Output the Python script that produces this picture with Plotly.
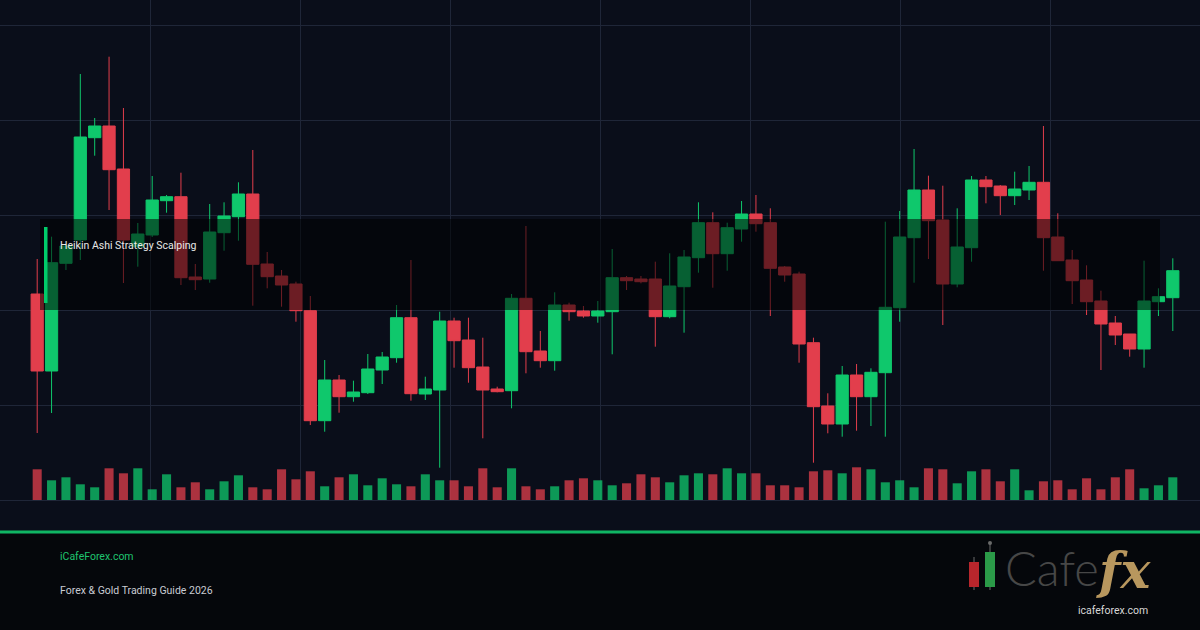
import plotly.graph_objects as go

# ---------------- data (price in USD, volume in lots) ----------------
candle_index = list(range(80))
open_ = [2406, 2329, 2436.7, 2460, 2562.3, 2574, 2531, 2453.3, 2465, 2499.3,
         2503.3, 2423, 2421, 2467.3, 2483.3, 2506, 2436, 2424, 2416, 2389.3,
         2279.3, 2320, 2303.3, 2307.3, 2330, 2342.3, 2382.3, 2306, 2310, 2379,
         2360, 2333, 2311, 2309.3, 2401.7, 2349, 2339.3, 2395, 2389, 2384,
         2388.3, 2422.3, 2421, 2421, 2383.3, 2413.3, 2442.3, 2477.3, 2446.3, 2471,
         2486, 2477.3, 2433, 2426, 2357.3, 2294, 2276, 2325, 2303.3, 2327.3,
         2392.3, 2462.3, 2510, 2480, 2416, 2452.3, 2520, 2514, 2504.3, 2510,
         2517.7, 2463, 2440, 2420, 2399, 2377, 2366, 2351, 2398.3, 2402.3]
high = [2441, 2463.3, 2456, 2626, 2582, 2643.3, 2592, 2477, 2524, 2505,
        2527.3, 2436, 2496, 2497.7, 2517.7, 2550, 2448, 2430, 2418.3, 2404,
        2340, 2325, 2319.3, 2346, 2348, 2395, 2440, 2323.3, 2388.3, 2382.3,
        2382.3, 2362.3, 2313.3, 2406, 2474, 2369, 2407.7, 2397.3, 2394, 2399,
        2451, 2424, 2424, 2438.3, 2446.7, 2450, 2497.7, 2487.7, 2477.3, 2499,
        2505, 2491.7, 2434, 2428.3, 2362.3, 2306.7, 2334, 2336, 2331.7, 2478.3,
        2489, 2551, 2524.3, 2514.3, 2491.7, 2524, 2524, 2515, 2528.3, 2534,
        2574, 2486.7, 2450, 2434.7, 2409.3, 2384, 2366, 2439.3, 2411.7, 2441.7]
low = [2267, 2287, 2430, 2440, 2544.3, 2490, 2417, 2433.3, 2463, 2487.3,
       2415, 2410, 2417.3, 2449.3, 2459.3, 2394.3, 2411.7, 2393.3, 2378.3, 2275,
       2268.3, 2287.3, 2298.3, 2306, 2316, 2337.3, 2299.3, 2300, 2232.3, 2332.3,
       2317.3, 2261.7, 2307.7, 2291.7, 2326.7, 2332.3, 2329.3, 2379.3, 2382.3, 2377.3,
       2345.7, 2410, 2416.7, 2353.3, 2381.7, 2367.3, 2427.3, 2412.3, 2429.3, 2458.3,
       2468.3, 2384, 2418.3, 2337.3, 2237.3, 2266.7, 2263.3, 2269.3, 2274, 2263.3,
       2378.3, 2417.3, 2441, 2375, 2412.7, 2438.3, 2496.7, 2485, 2495, 2500,
       2429.3, 2439, 2396, 2385, 2330, 2355, 2343.3, 2332.3, 2384, 2369]
close = [2329, 2437.3, 2454, 2563, 2574, 2530.3, 2460, 2466, 2500, 2503.3,
         2422.3, 2420.3, 2468, 2484, 2506, 2435.7, 2423.3, 2415, 2389.3, 2279.3,
         2320, 2303.3, 2308, 2331, 2343, 2382.3, 2306.3, 2311, 2379, 2359.3,
         2332.3, 2310, 2308.3, 2401.7, 2348.3, 2339.3, 2395, 2388.3, 2384, 2389,
         2422.3, 2419.3, 2418.3, 2383.3, 2414, 2443, 2477.3, 2446.3, 2472.3, 2486,
         2476.3, 2431.7, 2425, 2356, 2293.3, 2276, 2325, 2303.3, 2327.7, 2392.7,
         2463, 2510, 2479.3, 2416, 2453, 2520, 2513.3, 2504.3, 2511, 2517.7,
         2462.3, 2439.3, 2419.3, 2398.3, 2376, 2365, 2351, 2399, 2403.3, 2429.3]
volume = [3070, 1970, 2270, 1570, 1270, 3170, 2670, 3170, 1070, 2570,
          1270, 1770, 1070, 1870, 2470, 1270, 1070, 3070, 2070, 2870,
          1370, 2270, 2570, 1470, 2170, 1570, 1370, 2570, 1970, 1970,
          1370, 3170, 1270, 3170, 1370, 1070, 1370, 1970, 2170, 1970,
          1470, 1670, 2570, 2270, 1770, 2470, 2670, 2570, 3170, 2670,
          2670, 1470, 1470, 1270, 2870, 2970, 2670, 3270, 3070, 1770,
          1970, 1270, 3170, 3070, 1670, 2870, 3070, 1870, 3070, 970,
          1870, 1970, 1070, 2170, 1070, 2270, 3070, 1170, 1470, 2270]

title_text = "Heikin Ashi Strategy Scalping"
site_text = "iCafeForex.com"
subtitle_text = "Forex & Gold Trading Guide 2026"
logo_word = "Cafe"
logo_fx = "fx"
logo_url = "icafeforex.com"

# ---------------- style ----------------
W, H = 1200, 630
PLOT_H = 520
BG = "#0a0e1a"
FOOT_BG = "#05070b"
GRID = "#1f2638"
GREEN = "#0fc86c"
RED = "#e23e4c"
ACCENT = "#10b563"


def px_x(px):
    return px / W


def px_y(py):
    return (PLOT_H - py) / PLOT_H


vol_colors = [GREEN if c >= o else RED for o, c in zip(open_, close)]

fig = go.Figure()
fig.add_trace(go.Bar(
    x=candle_index, y=volume, yaxis="y2", width=0.63,
    marker=dict(color=vol_colors, line=dict(width=0)), opacity=0.75,
    hoverinfo="skip", showlegend=False))
fig.add_trace(go.Candlestick(
    x=candle_index, open=open_, high=high, low=low, close=close,
    increasing=dict(line=dict(color=GREEN, width=1), fillcolor=GREEN),
    decreasing=dict(line=dict(color=RED, width=1), fillcolor=RED),
    whiskerwidth=0, hoverinfo="skip", showlegend=False))

slot = 14.375
x_lo = -30 / slot - 0.5
x_hi = (W - 30) / slot - 0.5

shapes = [
    # cover grid below the volume baseline
    dict(type="rect", xref="paper", yref="paper", x0=0, x1=1, y0=px_y(501), y1=px_y(530.5),
         fillcolor=BG, line=dict(width=0), layer="above"),
    # footer
    dict(type="rect", xref="paper", yref="paper", x0=0, x1=1, y0=px_y(533.5), y1=px_y(H),
         fillcolor=FOOT_BG, line=dict(width=0), layer="below"),
    dict(type="rect", xref="paper", yref="paper", x0=0, x1=1, y0=px_y(530.5), y1=px_y(533.5),
         fillcolor=ACCENT, line=dict(width=0), layer="above"),
    # title overlay box
    dict(type="rect", xref="paper", yref="paper", x0=px_x(40), x1=px_x(1160), y0=px_y(219), y1=px_y(310),
         fillcolor="rgba(0,0,0,0.52)", line=dict(width=0), layer="above"),
    dict(type="rect", xref="paper", yref="paper", x0=px_x(44), x1=px_x(47.5), y0=px_y(227), y1=px_y(303),
         fillcolor="#00cc6a", line=dict(width=0), layer="above"),
    # logo candles
    dict(type="line", xref="paper", yref="paper", x0=px_x(974), x1=px_x(974), y0=px_y(557), y1=px_y(590),
         line=dict(color="#6a6a6a", width=1), layer="above"),
    dict(type="rect", xref="paper", yref="paper", x0=px_x(969), x1=px_x(979), y0=px_y(562), y1=px_y(587),
         fillcolor="#b8262c", line=dict(width=0), layer="above"),
    dict(type="line", xref="paper", yref="paper", x0=px_x(990), x1=px_x(990), y0=px_y(543), y1=px_y(590),
         line=dict(color="#6a6a6a", width=1), layer="above"),
    dict(type="circle", xref="paper", yref="paper", x0=px_x(988), x1=px_x(992), y0=px_y(541), y1=px_y(545),
         fillcolor="#6a6a6a", line=dict(width=0), layer="above"),
    dict(type="rect", xref="paper", yref="paper", x0=px_x(985), x1=px_x(995), y0=px_y(552), y1=px_y(587),
         fillcolor="#2b9a48", line=dict(width=0), layer="above"),
]

annotations = [
    dict(text=title_text, xref="paper", yref="paper", x=px_x(58), y=px_y(245),
         xanchor="left", yanchor="middle", showarrow=False,
         font=dict(family="Roboto", size=10.5, color="#e8e8e8")),
    dict(text=site_text, xref="paper", yref="paper", x=px_x(58), y=px_y(556),
         xanchor="left", yanchor="middle", showarrow=False,
         font=dict(family="Roboto", size=10.5, color="#1fc46f")),
    dict(text=subtitle_text, xref="paper", yref="paper", x=px_x(58), y=px_y(590),
         xanchor="left", yanchor="middle", showarrow=False,
         font=dict(family="Roboto", size=10.5, color="#c9ccd3")),
    dict(text=logo_word, xref="paper", yref="paper", x=px_x(1003), y=px_y(568),
         xanchor="left", yanchor="middle", showarrow=False,
         font=dict(family="Lato", size=47, color="#474747", weight=300)),
    dict(text="<i><b>" + logo_fx + "</b></i>", xref="paper", yref="paper", x=px_x(1094), y=px_y(570),
         xanchor="left", yanchor="middle", showarrow=False,
         font=dict(family="DejaVu Serif", size=50, color="#b8975e")),
    dict(text=logo_url, xref="paper", yref="paper", x=px_x(1113), y=px_y(610),
         xanchor="center", yanchor="middle", showarrow=False,
         font=dict(family="Roboto", size=10.5, color="#d8d8d8")),
]

fig.update_layout(
    width=W, height=H,
    margin=dict(l=0, r=0, t=0, b=H - PLOT_H, pad=0),
    paper_bgcolor=BG, plot_bgcolor=BG,
    showlegend=False,
    boxgap=0.15, boxgroupgap=0,
    xaxis=dict(range=[x_lo, x_hi], type="linear", showgrid=True, gridcolor=GRID, gridwidth=1,
               tick0=150 / slot + x_lo, dtick=150 / slot, showticklabels=False, ticks="",
               zeroline=False, showline=False, rangeslider=dict(visible=False), fixedrange=True),
    yaxis=dict(range=[2700 - PLOT_H, 2700], showgrid=True, gridcolor=GRID, gridwidth=1,
               tick0=2200, dtick=95, showticklabels=False, ticks="", zeroline=False,
               showline=False, fixedrange=True),
    yaxis2=dict(overlaying="y", range=[-2000, 50000], visible=False, showgrid=False,
                zeroline=False, fixedrange=True),
    shapes=shapes, annotations=annotations,
)

fig.write_html("out.html", config=dict(displayModeBar=False, staticPlot=True))
